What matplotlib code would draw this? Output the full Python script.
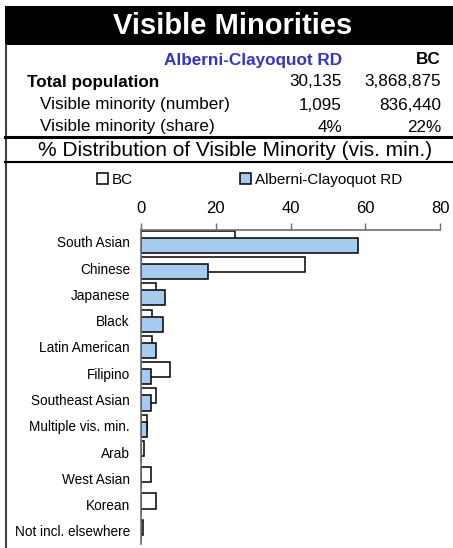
import numpy as np
import matplotlib.pyplot as plt
from matplotlib.patches import Rectangle
from matplotlib.lines import Line2D

plt.rcParams['font.family'] = ['Liberation Sans', 'DejaVu Sans']

categories = ['South Asian', 'Chinese', 'Japanese', 'Black', 'Latin American',
              'Filipino', 'Southeast Asian', 'Multiple vis. min.', 'Arab',
              'West Asian', 'Korean', 'Not incl. elsewhere']
bc = [25.2, 43.9, 4.0, 2.9, 2.9, 7.8, 4.0, 1.6, 0.8, 2.7, 3.9, 0.5]
rd = [58.1, 17.9, 6.4, 5.9, 4.0, 2.7, 2.7, 1.7, 0.0, 0.0, 0.0, 0.0]

region = 'Alberni-Clayoquot RD'
rows = ['Total population', 'Visible minority (number)', 'Visible minority (share)']
rd_vals = ['30,135', '1,095', '4%']
bc_vals = ['3,868,875', '836,440', '22%']

W, H = 453, 548
fig = plt.figure(figsize=(W / 100, H / 100), dpi=100)

def fx(px):
    return px / W

def fy(py):
    return 1 - py / H

# header band
fig.patches.append(Rectangle((fx(5), fy(45)), fx(448), 39 / H, transform=fig.transFigure,
                             facecolor='black', edgecolor='none'))
fig.text(fx(233), fy(26), 'Visible Minorities', color='white', fontsize=21,
         fontweight='bold', ha='center', va='center')

# frame lines
fig.lines.append(Line2D([fx(6), fx(6)], [fy(45), fy(548)], transform=fig.transFigure,
                        color='#404040', lw=1.5))
fig.lines.append(Line2D([fx(5), fx(453)], [fy(136.5), fy(136.5)], transform=fig.transFigure,
                        color='black', lw=2.2))
fig.lines.append(Line2D([fx(5), fx(453)], [fy(162), fy(162)], transform=fig.transFigure,
                        color='black', lw=1.5))

# summary table
fs = 12.3
fig.text(fx(342), fy(60), region, color='#3333CC', fontsize=fs, fontweight='bold',
         ha='right', va='center')
fig.text(fx(441), fy(60), 'BC', color='black', fontsize=fs, fontweight='bold',
         ha='right', va='center')
row_y = [82, 105, 127]
for i, (lab, a, b) in enumerate(zip(rows, rd_vals, bc_vals)):
    if i == 0:
        fig.text(fx(27), fy(row_y[i]), lab, fontsize=fs, fontweight='bold', va='center')
    else:
        fig.text(fx(40), fy(row_y[i]), lab, fontsize=fs, va='center')
    fig.text(fx(342), fy(row_y[i]), a, fontsize=fs, ha='right', va='center')
    fig.text(fx(441), fy(row_y[i]), b, fontsize=fs, ha='right', va='center')

fig.text(fx(235), fy(151), '% Distribution of Visible Minority (vis. min.)', fontsize=15,
         ha='center', va='center')

# bar chart
ax = fig.add_axes([fx(141), fy(544), fx(440) - fx(141), (544 - 230) / H])
y = np.arange(len(categories))
h = 0.575
b1 = ax.barh(y - 0.135, bc, height=h, color='white', edgecolor='black', lw=1.1, label='BC')
b2 = ax.barh(y + 0.135, rd, height=h, color='#A6CAF0', edgecolor='black', lw=1.1, label=region)
ax.set_xlim(0, 80)
ax.set_ylim(11.5, -0.45)
ax.set_xticks([0, 20, 40, 60, 80])
ax.xaxis.tick_top()
ax.tick_params(axis='x', direction='out', length=5, width=1, color='#6e6e6e',
               labelsize=12, pad=5)
ax.set_yticks(y)
ax.set_yticklabels(categories, fontsize=9.8)
ax.tick_params(axis='y', length=0, pad=8)
for s in ['bottom', 'right']:
    ax.spines[s].set_visible(False)
for s in ['top', 'left']:
    ax.spines[s].set_color('#6e6e6e')
    ax.spines[s].set_linewidth(1.2)

fig.legend(handles=[b1, b2], loc='center left', bbox_to_anchor=(fx(89), fy(180)),
           ncol=2, frameon=False, fontsize=11, handlelength=0.75, handleheight=0.75,
           handletextpad=0.25, columnspacing=7.0, borderpad=0)

fig.savefig('out.png', dpi=100)
